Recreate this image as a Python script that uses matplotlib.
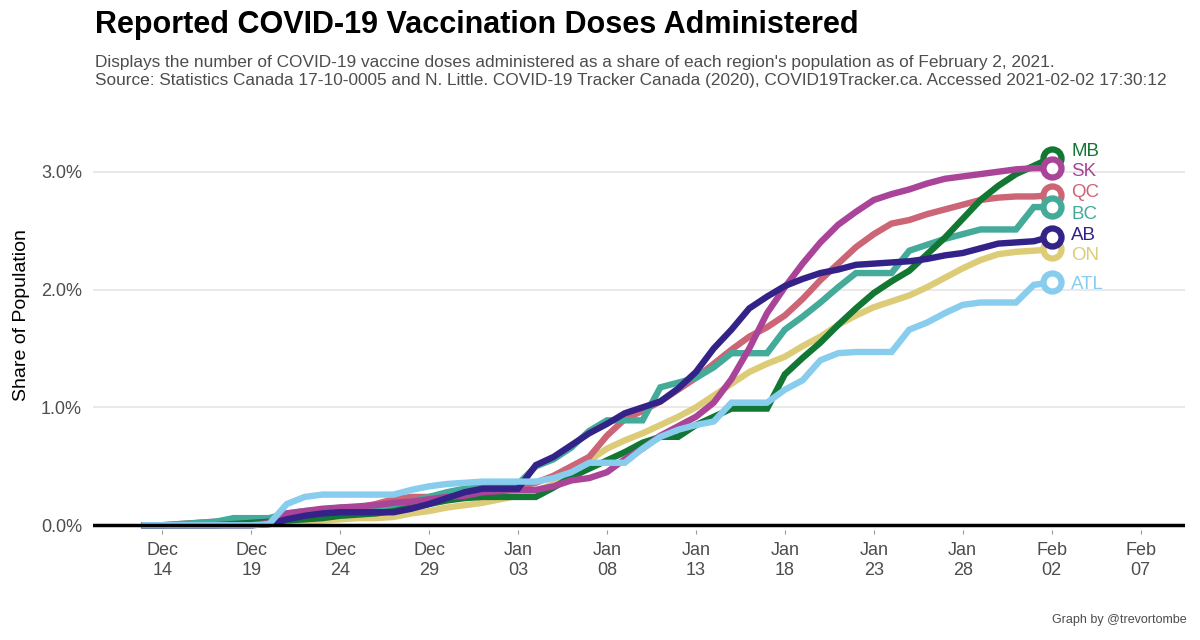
import matplotlib
matplotlib.use("Agg")
import matplotlib.pyplot as plt
import matplotlib.dates as mdates
import pandas as pd

plt.rcParams['font.family'] = ['Liberation Sans', 'DejaVu Sans']

# daily values, Dec 13 2020 .. Feb 2 2021, share of population in percent
dates = pd.date_range("2020-12-13", "2021-02-02", freq="D")

mb = [0, 0, 0, 0, 0, 0.01, 0.02, 0.03, 0.04, 0.05, 0.06, 0.08, 0.09, 0.10, 0.12,
      0.15, 0.18, 0.21, 0.23, 0.24, 0.24, 0.24, 0.24, 0.32, 0.41, 0.48, 0.55,
      0.62, 0.70, 0.75, 0.75, 0.85, 0.92, 0.99, 0.99, 0.99, 1.28, 1.42, 1.55,
      1.70, 1.84, 1.97, 2.07, 2.16, 2.30, 2.44, 2.60, 2.76, 2.88, 2.98, 3.05, 3.12]
sk = [0, 0, 0, 0, 0, 0, 0, 0.02, 0.10, 0.12, 0.14, 0.15, 0.16, 0.17, 0.19,
      0.20, 0.22, 0.24, 0.25, 0.28, 0.29, 0.30, 0.30, 0.33, 0.38, 0.40, 0.45,
      0.56, 0.65, 0.76, 0.84, 0.92, 1.04, 1.24, 1.50, 1.80, 2.02, 2.22, 2.40,
      2.55, 2.66, 2.76, 2.81, 2.85, 2.90, 2.94, 2.96, 2.98, 3.00, 3.02, 3.03, 3.03]
qc = [0, 0, 0.01, 0.02, 0.03, 0.04, 0.04, 0.04, 0.07, 0.10, 0.12, 0.14, 0.15,
      0.18, 0.22, 0.24, 0.24, 0.25, 0.28, 0.30, 0.32, 0.33, 0.36, 0.42, 0.50,
      0.58, 0.76, 0.90, 0.97, 1.05, 1.15, 1.25, 1.37, 1.49, 1.60, 1.68, 1.78,
      1.92, 2.08, 2.22, 2.36, 2.47, 2.56, 2.59, 2.64, 2.68, 2.72, 2.76, 2.78,
      2.79, 2.79, 2.80]
bc = [0, 0, 0.01, 0.02, 0.03, 0.06, 0.06, 0.06, 0.10, 0.12, 0.13, 0.15, 0.15,
      0.15, 0.17, 0.20, 0.24, 0.28, 0.31, 0.32, 0.33, 0.35, 0.50, 0.56, 0.66,
      0.80, 0.89, 0.89, 0.89, 1.17, 1.21, 1.25, 1.34, 1.46, 1.46, 1.46, 1.66,
      1.77, 1.89, 2.02, 2.14, 2.14, 2.14, 2.33, 2.38, 2.43, 2.47, 2.51, 2.51,
      2.51, 2.70, 2.70]
ab = [0, 0, 0, 0, 0, 0, 0, 0.01, 0.05, 0.08, 0.10, 0.11, 0.11, 0.11, 0.11,
      0.14, 0.18, 0.23, 0.28, 0.31, 0.31, 0.31, 0.51, 0.58, 0.68, 0.78, 0.86,
      0.95, 1.00, 1.05, 1.16, 1.30, 1.50, 1.66, 1.84, 1.94, 2.03, 2.09, 2.14,
      2.17, 2.21, 2.22, 2.23, 2.24, 2.26, 2.29, 2.31, 2.35, 2.39, 2.40, 2.41, 2.45]
on = [0, 0, 0, 0, 0, 0, 0, 0.01, 0.02, 0.03, 0.04, 0.05, 0.06, 0.06, 0.07,
      0.10, 0.12, 0.15, 0.17, 0.19, 0.22, 0.25, 0.29, 0.35, 0.41, 0.55, 0.65,
      0.72, 0.78, 0.85, 0.92, 1.00, 1.10, 1.20, 1.30, 1.37, 1.43, 1.52, 1.60,
      1.70, 1.78, 1.85, 1.90, 1.95, 2.02, 2.10, 2.18, 2.25, 2.30, 2.32, 2.33, 2.34]
atl = [0, 0, 0, 0, 0, 0, 0, 0.01, 0.18, 0.24, 0.26, 0.26, 0.26, 0.26, 0.26,
       0.30, 0.33, 0.35, 0.36, 0.37, 0.37, 0.37, 0.37, 0.40, 0.45, 0.53, 0.53,
       0.53, 0.65, 0.75, 0.81, 0.85, 0.88, 1.04, 1.04, 1.04, 1.15, 1.23, 1.40,
       1.46, 1.47, 1.47, 1.47, 1.66, 1.72, 1.80, 1.87, 1.89, 1.89, 1.89, 2.04, 2.06]

regions = ["MB", "SK", "QC", "BC", "AB", "ON", "ATL"]
series = {"MB": mb, "SK": sk, "QC": qc, "BC": bc, "AB": ab, "ON": on, "ATL": atl}
colors = {"MB": "#117733", "SK": "#AA4499", "QC": "#CC6677", "BC": "#44AA99",
          "AB": "#332288", "ON": "#DDCC77", "ATL": "#88CCEE"}
# label heights (percent), nudged apart so they don't collide
label_y = {"MB": 3.17, "SK": 3.00, "QC": 2.82, "BC": 2.64, "AB": 2.46, "ON": 2.29, "ATL": 2.04}
draw_order = ["ON", "QC", "BC", "MB", "SK", "AB", "ATL"]

fig = plt.figure(figsize=(12, 6.4), dpi=100)
ax = fig.add_axes([0.0775, 0.172, 0.91, 0.672])

for r in draw_order:
    ax.plot(dates, series[r], color=colors[r], lw=4.6, solid_joinstyle='miter', zorder=3)
for r in draw_order:
    ax.plot(dates[-1], series[r][-1], 'o', ms=13, mfc='white', mec=colors[r], mew=4.5, zorder=4)
    ax.text(dates[-1] + pd.Timedelta(days=1.1), label_y[r], r, color=colors[r],
            fontsize=13.5, va='center', ha='left')

ax.axhline(0, color='black', lw=2.5, zorder=5)
ax.set_xlim(pd.Timestamp("2020-12-14") - pd.Timedelta(days=3.9),
            pd.Timestamp("2020-12-14") + pd.Timedelta(days=57.5))
ax.set_ylim(-0.04, 3.61)

ticks = pd.date_range("2020-12-14", "2021-02-07", freq="5D")
ax.set_xticks(ticks)
ax.xaxis.set_major_formatter(mdates.DateFormatter("%b\n%d"))
ax.set_yticks([0, 1, 2, 3])
ax.set_yticklabels(["0.0%", "1.0%", "2.0%", "3.0%"])
ax.tick_params(axis='x', length=3, color='#999999', labelsize=13, labelcolor='#4d4d4d', pad=6)
ax.tick_params(axis='y', length=0, labelsize=13, labelcolor='#4d4d4d', pad=8)
ax.grid(axis='y', color='#e5e5e5', lw=1.2)
ax.set_axisbelow(True)
for s in ax.spines.values():
    s.set_visible(False)
ax.set_ylabel("Share of Population", fontsize=14, labelpad=8)

fig.text(0.079, 0.985, "Reported COVID-19 Vaccination Doses Administered",
         fontsize=22, fontweight='bold', va='top')
fig.text(0.079, 0.914, "Displays the number of COVID-19 vaccine doses administered as a share of each region's population as of February 2, 2021.\n"
         "Source: Statistics Canada 17-10-0005 and N. Little. COVID-19 Tracker Canada (2020), COVID19Tracker.ca. Accessed 2021-02-02 17:30:12",
         fontsize=12.4, color='#4d4d4d', va='top', linespacing=1.25)
fig.text(0.989, 0.022, "Graph by @trevortombe", fontsize=9, color='#4d4d4d', ha='right', va='bottom')

fig.savefig("out.png", dpi=100)
